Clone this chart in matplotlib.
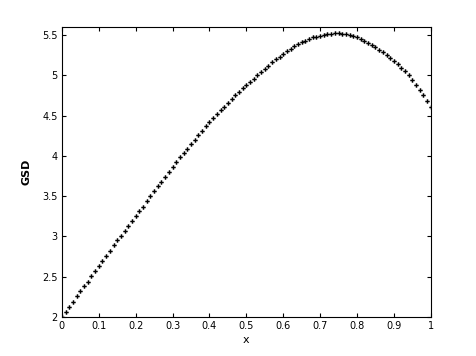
import numpy as np
import matplotlib
matplotlib.use('Agg')
import matplotlib.pyplot as plt

# x grid and GSD values
x = np.linspace(0, 1, 101)
gsd = [2.00, 2.06, 2.13, 2.19, 2.26, 2.32, 2.38, 2.44, 2.51, 2.57,
       2.63, 2.70, 2.76, 2.82, 2.89, 2.95, 3.01, 3.07, 3.13, 3.19,
       3.25, 3.31, 3.37, 3.44, 3.50, 3.56, 3.62, 3.68, 3.74, 3.80,
       3.86, 3.92, 3.98, 4.04, 4.09, 4.15, 4.20, 4.26, 4.31, 4.37,
       4.42, 4.47, 4.52, 4.57, 4.61, 4.66, 4.70, 4.75, 4.79, 4.84,
       4.88, 4.92, 4.96, 5.00, 5.04, 5.08, 5.12, 5.16, 5.20, 5.23,
       5.27, 5.30, 5.33, 5.36, 5.39, 5.41, 5.43, 5.45, 5.47, 5.48,
       5.49, 5.50, 5.51, 5.51, 5.52, 5.52, 5.51, 5.51, 5.50, 5.49,
       5.47, 5.45, 5.43, 5.40, 5.38, 5.35, 5.32, 5.29, 5.25, 5.22,
       5.18, 5.14, 5.09, 5.05, 5.00, 4.94, 4.88, 4.82, 4.75, 4.68,
       4.61]

xticks = [0, 0.1, 0.2, 0.3, 0.4, 0.5, 0.6, 0.7, 0.8, 0.9, 1]
xticklabels = ['0', '0.1', '0.2', '0.3', '0.4', '0.5', '0.6', '0.7', '0.8', '0.9', '1']
yticks = [2, 2.5, 3, 3.5, 4, 4.5, 5, 5.5]
yticklabels = ['2', '2.5', '3', '3.5', '4', '4.5', '5', '5.5']

fig = plt.figure(figsize=(4.76, 3.56), dpi=100)
ax = fig.add_axes([0.130, 0.1096, 0.775, 0.8146])

ax.plot(x, gsd, linestyle='none', marker='P', markersize=3.2,
        color='black', markeredgewidth=0)

ax.set_xlim(0, 1)
ax.set_ylim(2, 5.6)
ax.set_xticks(xticks)
ax.set_xticklabels(xticklabels)
ax.set_yticks(yticks)
ax.set_yticklabels(yticklabels)
ax.tick_params(direction='in', length=3, width=0.8, labelsize=7,
               top=True, right=True, pad=3)
for s in ax.spines.values():
    s.set_linewidth(0.8)

ax.set_xlabel('x', fontsize=8, labelpad=3)
ax.set_ylabel('GSD', fontsize=8, fontweight='bold', labelpad=8)

fig.savefig('out.png', dpi=100)
